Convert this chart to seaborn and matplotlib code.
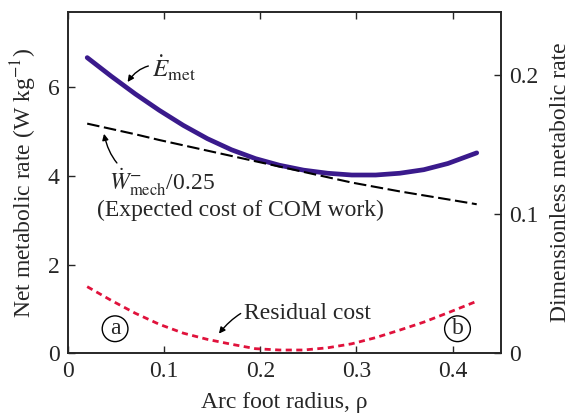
import pandas as pd
import matplotlib
matplotlib.use("Agg")
import matplotlib.pyplot as plt
import seaborn as sns

# values
rho = [0.02, 0.045, 0.07, 0.095, 0.12, 0.145, 0.17, 0.195, 0.22,
       0.245, 0.27, 0.295, 0.32, 0.345, 0.37, 0.395, 0.425]
e_met = [6.67, 6.25, 5.85, 5.48, 5.14, 4.84, 4.59, 4.39, 4.24,
         4.13, 4.06, 4.02, 4.02, 4.06, 4.14, 4.28, 4.52]
w_mech = [5.18, 5.06, 4.94, 4.81, 4.69, 4.57, 4.45, 4.33, 4.21,
          4.09, 3.97, 3.85, 3.75, 3.65, 3.56, 3.47, 3.36]
residual = [1.50, 1.19, 0.90, 0.65, 0.45, 0.31, 0.20, 0.10, 0.07,
            0.07, 0.12, 0.21, 0.35, 0.52, 0.70, 0.91, 1.17]

xticks = [0, 0.1, 0.2, 0.3, 0.4]
left_ticks = [0, 2, 4, 6]
right_ticks = [0, 0.1, 0.2]

df = pd.DataFrame({'rho': rho, 'e_met': e_met, 'w_mech': w_mech,
                   'residual': residual})

sns.set_style("ticks")
plt.rcParams['font.family'] = ['Liberation Serif', 'DejaVu Serif']
plt.rcParams['mathtext.fontset'] = 'stix'
fs = 17

fig = plt.figure(figsize=(5.71, 4.13), dpi=100)
ax = fig.add_axes([0.119, 0.145, 0.758, 0.826])

sns.lineplot(data=df, x='rho', y='e_met', ax=ax, color='#3a1a8c', lw=3.4)
sns.lineplot(data=df, x='rho', y='w_mech', ax=ax, color='black', lw=1.5,
             linestyle=(0, (6, 2.2)))
sns.lineplot(data=df, x='rho', y='residual', ax=ax, color='#e0123c', lw=2,
             linestyle=(0, (2.2, 1.6)))

ax.set_xlim(0, 0.45)
ax.set_ylim(0, 7.7)
ax.set_xticks(xticks)
ax.set_xticklabels(['0', '0.1', '0.2', '0.3', '0.4'])
ax.set_yticks(left_ticks)
ax.set_xlabel('Arc foot radius, ρ', fontsize=fs, labelpad=7)
ax.set_ylabel('Net metabolic rate (W kg$^{-1}$)', fontsize=fs, labelpad=6)
ax.tick_params(direction='in', length=5, width=1, top=True, right=False,
               labelsize=fs, pad=6)

ax2 = ax.twinx()
ax2.set_ylim(0, 0.245)
ax2.set_yticks(right_ticks)
ax2.set_yticklabels(['0', '0.1', '0.2'])
ax2.set_ylabel('Dimensionless metabolic rate', fontsize=fs, labelpad=8)
ax2.tick_params(direction='in', length=5, width=1, labelsize=fs, pad=6)

for a in (ax, ax2):
    for s in a.spines.values():
        s.set_linewidth(1.2)
        s.set_visible(True)

arrow = dict(arrowstyle='-|>', color='black', lw=1, mutation_scale=9,
             shrinkA=0, shrinkB=0)

ax.annotate(r'$\dot{E}_{\rm met}$', xy=(0.062, 6.12), xytext=(0.087, 6.42),
            fontsize=18, va='center', ha='left',
            arrowprops=dict(arrow, connectionstyle='arc3,rad=0.4'))
ax.annotate(r'$\dot{W}^{-}_{\rm mech}$/0.25', xy=(0.0375, 4.95),
            xytext=(0.043, 3.86), fontsize=fs, va='center', ha='left',
            arrowprops=dict(arrow, connectionstyle='arc3,rad=-0.4'))
ax.text(0.179, 3.23, '(Expected cost of COM work)', fontsize=fs,
        ha='center', va='center')
ax.annotate('Residual cost', xy=(0.157, 0.44), xytext=(0.183, 0.9),
            fontsize=fs, va='center', ha='left',
            arrowprops=dict(arrow, connectionstyle='arc3,rad=0.4'))

for lbl, xpos in (('a', 0.049), ('b', 0.405)):
    ax.text(xpos, 0.55, lbl, fontsize=fs, ha='center', va='center',
            bbox=dict(boxstyle='circle,pad=0.1', fc='white', ec='black',
                      lw=1))

fig.savefig('out.png', dpi=100)
